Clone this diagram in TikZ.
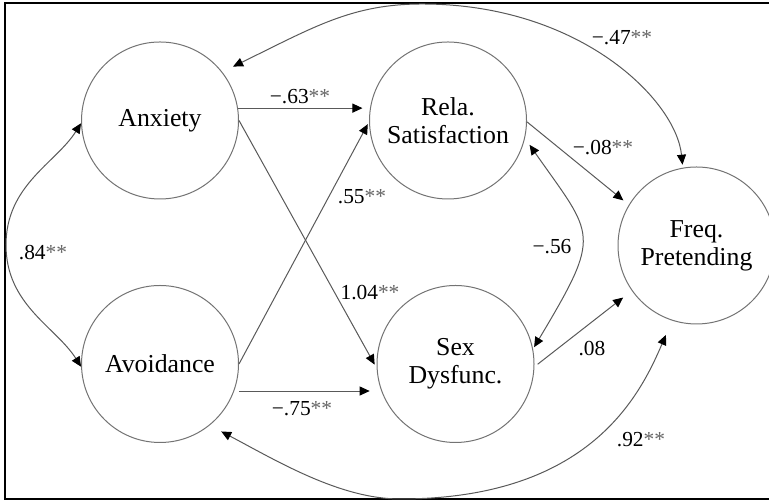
\documentclass[tikz,border=0pt]{standalone}
\usepackage{fontspec}
\setmainfont{Liberation Serif}
\usetikzlibrary{arrows.meta}
\newcommand{\sigstar}{\textcolor{black!60}{**}}
\tikzset{
  var/.style={circle, draw=black!55, line width=0.5pt, minimum size=78.5pt,
              inner sep=0pt, align=center, font=\fontsize{12.9}{14}\selectfont},
  coef/.style={inner sep=1pt, font=\fontsize{10.7}{12}\selectfont},
  arrow/.style={-{Triangle[length=5pt,width=4.5pt,black]}, draw=black!65, line width=0.5pt},
  biarrow/.style={{Triangle[length=5pt,width=4.5pt,black]}-{Triangle[length=5pt,width=4.5pt,black]},
                  draw=black!65, line width=0.5pt},
}

\begin{document}
\begin{tikzpicture}[x=0.5pt,y=0.5pt]
  \useasboundingbox (0,0) rectangle (769,501);
  \clip (0,0) rectangle (769,501);
  \draw[line width=1pt] (5,2) rectangle (800,497.5);
  \node[var] (anx) at (160,380.5) {Anxiety};
  \node[var] (avo) at (160,137) {Avoidance};
  \node[var] (rel) at (448,380.5) {Rela.\\Satisfaction};
  \node[var] (sex) at (455.5,137) {Sex\\Dysfunc.};
  \node[var] (frq) at (696.5,255.5) {Freq.\\Pretending};
  \draw[arrow, shorten >=3.75pt] (anx.9) -- (rel.171);
  \draw[arrow, shorten >=2pt] (anx.east) -- (sex.183);
  \draw[arrow, shorten >=1.3pt] (avo.east) -- (rel.181);
  \draw[arrow, shorten <=2.6pt, shorten >=5.8pt] (avo.-20) -- (sex.200);
  \draw[arrow, shorten >=3.5pt] (rel.-1) -- (frq.149);
  \draw[arrow, shorten <=2pt, shorten >=5.5pt] (sex.-2) -- (frq.215);
  \draw[biarrow] (anx.182) .. controls (56,338) and (6,316) .. (6,256)
    .. controls (6,196) and (56,174) .. (avo.182);
  \draw[biarrow, shorten <=6pt, shorten >=1.5pt] (anx.38) .. controls (314,474) and (352,497) .. (422,497)
    .. controls (580,497) and (676,401) .. (frq.100);
  \draw[biarrow, shorten <=6.5pt, shorten >=7.8pt] (avo.-51) .. controls (277,40) and (340,2) .. (400,2)
    .. controls (590,2) and (640,106) .. (frq.252);
  \draw[biarrow, shorten <=4pt, shorten >=1pt] (rel.-13) .. controls (594,264) and (603,269) .. (sex.11);
  \node[coef] (c63) at (300,404) {−.63\sigstar};
  \node[coef] (c55) at (362,304) {.55\sigstar};
  \node[coef] (c104) at (370,208.5) {1.04\sigstar};
  \node[coef] (c75) at (302,92) {−.75\sigstar};
  \node[coef] (c84) at (43,248) {.84\sigstar};
  \node[coef] (c47) at (622,463.5) {−.47\sigstar};
  \node[coef] (c08a) at (603,353) {−.08\sigstar};
  \node[coef] (c56) at (552,254) {−.56};
  \node[coef] (c08b) at (592,152) {.08};
  \node[coef] (c92) at (641,61) {.92\sigstar};
\end{tikzpicture}
\end{document}
